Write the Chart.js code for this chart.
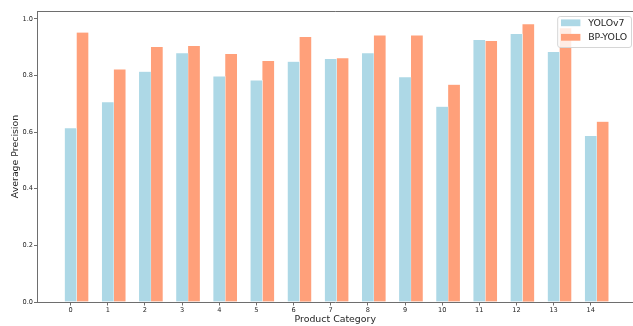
<!DOCTYPE html>
<html>
<head>
<meta charset="utf-8">
<script src="https://cdn.jsdelivr.net/npm/chart.js@4"></script>
<style>
  html, body { margin: 0; padding: 0; background: #fff; overflow: hidden; }
</style>
</head>
<body>
<canvas id="apChart" width="633" height="326"></canvas>
<script>
// Average precision per product category
const categories = ['0', '1', '2', '3', '4', '5', '6', '7', '8', '9', '10', '11', '12', '13', '14'];
const seriesNames = ['YOLOv7', 'BP-YOLO'];
const yolov7 = [0.614, 0.706, 0.814, 0.879, 0.797, 0.783, 0.849, 0.859, 0.879, 0.794, 0.690, 0.926, 0.947, 0.883, 0.587];
const bpYolo = [0.952, 0.822, 0.901, 0.905, 0.876, 0.852, 0.936, 0.861, 0.942, 0.942, 0.768, 0.922, 0.981, 0.967, 0.637];
const yTicks = [0.0, 0.2, 0.4, 0.6, 0.8, 1.0];

const barWidth = 0.32;      // in category units, second bar sits one width to the right
const seriesColors = ['#ADD8E6', '#FFA07A'];
const axisColor = '#6e6e6e';
const textColor = '#262626';
const fontFamily = "'DejaVu Sans', sans-serif";

// frame top line + matplotlib-like legend inside the axes
const framePlugin = {
    id: 'frameLegend',
    afterDraw(chart) {
        const ctx = chart.ctx;
        const area = chart.chartArea;
        ctx.save();
        ctx.strokeStyle = axisColor;
        ctx.lineWidth = 1;
        ctx.beginPath();
        ctx.moveTo(area.left, Math.round(area.top) + 0.5);
        ctx.lineTo(area.right, Math.round(area.top) + 0.5);
        ctx.stroke();

        // legend
        const fs = 9.4;
        ctx.font = fs + "px " + fontFamily;
        const pad = 3.8, handle = 19.4, gap = 7.8;
        const textW = Math.max(...seriesNames.map(n => ctx.measureText(n).width));
        const w = pad + handle + gap + textW + pad;
        const h = 31;
        const x0 = area.right - 2 - w;
        const y0 = area.top + 5;
        ctx.beginPath();
        ctx.roundRect(x0 + 0.5, y0 + 0.5, w, h, 2.5);
        ctx.fillStyle = 'rgba(255,255,255,0.8)';
        ctx.fill();
        ctx.strokeStyle = '#d6d6d6';
        ctx.stroke();

        ctx.textBaseline = 'middle';
        ctx.textAlign = 'left';
        seriesNames.forEach((name, i) => {
            const cy = y0 + 6.8 + i * 14.5;
            ctx.fillStyle = seriesColors[i];
            ctx.fillRect(x0 + pad, cy - 3.4, handle, 6.8);
            ctx.fillStyle = textColor;
            ctx.fillText(name, x0 + pad + handle + gap, cy + 0.5);
        });
        ctx.restore();
    }
};

const canvas = document.getElementById('apChart');

new Chart(canvas, {
    type: 'bar',
    data: {
        datasets: [
            {
                label: seriesNames[0],
                data: yolov7.map((v, i) => ({ x: i, y: v })),
                backgroundColor: seriesColors[0],
                borderColor: '#ffffff',
                borderWidth: 0.4,
                barThickness: 11.9,
                grouped: false
            },
            {
                label: seriesNames[1],
                data: bpYolo.map((v, i) => ({ x: i + barWidth, y: v })),
                backgroundColor: seriesColors[1],
                borderColor: '#ffffff',
                borderWidth: 0.4,
                barThickness: 11.9,
                grouped: false
            }
        ]
    },
    options: {
        responsive: false,
        animation: false,
        devicePixelRatio: 1,
        layout: { padding: { top: 11, right: 0, bottom: 0, left: 0 } },
        plugins: {
            legend: { display: false },
            tooltip: { enabled: false }
        },
        scales: {
            x: {
                type: 'linear',
                offset: false,
                min: -0.892,
                max: 15.137,
                afterBuildTicks: s => { s.ticks = categories.map((c, i) => ({ value: i })); },
                afterFit: s => { s.height = 24; },
                ticks: {
                    callback: (v, i) => categories[i],
                    autoSkip: false,
                    maxRotation: 0,
                    padding: 1,
                    color: textColor,
                    font: { family: fontFamily, size: 6.6 }
                },
                grid: { offset: false, drawOnChartArea: false, tickLength: 3.5, tickColor: axisColor },
                border: { color: axisColor, width: 1, z: 1 },
                title: {
                    display: true,
                    text: 'Product Category',
                    color: textColor,
                    padding: { top: 0, bottom: 0.4 },
                    font: { family: fontFamily, size: 9.4 }
                }
            },
            y: {
                min: 0,
                max: 1.028,
                afterBuildTicks: s => { s.ticks = yTicks.map(v => ({ value: v })); },
                afterFit: s => { s.width = 37.5; },
                ticks: {
                    callback: v => v.toFixed(1),
                    padding: 1,
                    color: textColor,
                    font: { family: fontFamily, size: 6.6 }
                },
                grid: { drawOnChartArea: false, tickLength: 3.5, tickColor: axisColor },
                border: { color: axisColor, width: 1, z: 1 },
                title: {
                    display: true,
                    text: 'Average Precision',
                    color: textColor,
                    padding: { top: 9.5, bottom: 0 },
                    font: { family: fontFamily, size: 9.4 }
                }
            }
        }
    },
    plugins: [framePlugin]
});
</script>
</body>
</html>
